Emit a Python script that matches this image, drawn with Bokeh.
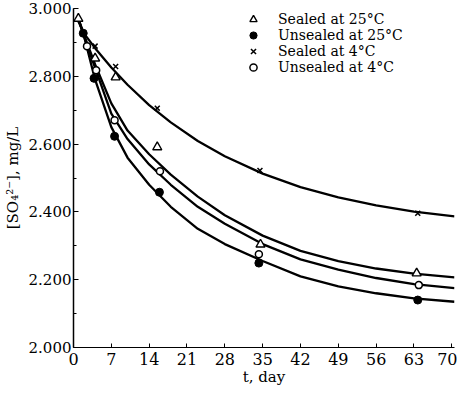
from bokeh.plotting import figure
from bokeh.models import (Range1d, SingleIntervalTicker, FixedTicker, NumeralTickFormatter,
                          Legend, LegendItem)
from bokeh.embed import file_html
from bokeh.resources import INLINE

# ---- data ----
# measured points (day, [SO4 2-] mg/L)
s25_days = [0.9, 4.0, 7.8, 15.5, 34.6, 63.5]
s25_vals = [2.970, 2.853, 2.797, 2.591, 2.304, 2.219]
u25_days = [1.8, 3.8, 7.6, 15.9, 34.3, 63.7]
u25_vals = [2.927, 2.794, 2.623, 2.458, 2.249, 2.140]
s4_days = [4.0, 7.8, 15.5, 34.5, 63.7]
s4_vals = [2.889, 2.829, 2.706, 2.522, 2.396]
u4_days = [2.5, 4.2, 7.6, 16.0, 34.3, 63.9]
u4_vals = [2.889, 2.818, 2.670, 2.520, 2.275, 2.184]

# fitted curves
curve_days = [0.8, 2, 4, 7, 10, 14, 18, 23, 28, 35, 42, 49, 56, 63, 70.5]
curve_s25 = [2.975, 2.920, 2.835, 2.720, 2.640, 2.570, 2.510, 2.445, 2.390, 2.330, 2.285, 2.255, 2.233, 2.218, 2.207]
curve_u25 = [2.975, 2.915, 2.790, 2.650, 2.560, 2.480, 2.415, 2.350, 2.305, 2.255, 2.210, 2.180, 2.160, 2.145, 2.135]
curve_s4 = [2.965, 2.925, 2.883, 2.826, 2.775, 2.715, 2.664, 2.609, 2.564, 2.513, 2.473, 2.443, 2.419, 2.401, 2.387]
curve_u4 = [2.975, 2.915, 2.825, 2.690, 2.615, 2.540, 2.480, 2.415, 2.365, 2.305, 2.260, 2.230, 2.205, 2.187, 2.175]

x_ticks = [0, 7, 14, 21, 28, 35, 42, 49, 56, 63, 70]
labels = ["Sealed at 25°C", "Unsealed at 25°C", "Sealed at 4°C", "Unsealed at 4°C"]

FONT = "DejaVu Serif"

p = figure(width=457, height=389, output_backend="svg", toolbar_location=None,
           x_range=Range1d(0, 70.5), y_range=Range1d(2.0, 3.0),
           min_border_left=65, min_border_right=3, min_border_top=8, min_border_bottom=42)
p.outline_line_color = None
p.xgrid.visible = False
p.ygrid.visible = False
p.background_fill_color = "white"
p.border_fill_color = "white"

# axes
xa = p.xaxis[0]
xa.ticker = FixedTicker(ticks=x_ticks)
xa.axis_label = "t, day"
xa.axis_label_text_font = FONT
xa.axis_label_text_font_size = "15px"
xa.axis_label_text_font_style = "normal"
xa.axis_label_standoff = 0
xa.major_label_text_font = FONT
xa.major_label_text_font_size = "16px"
xa.major_label_standoff = 5
xa.major_tick_in = 4
xa.major_tick_out = 0
xa.minor_tick_line_color = None
xa.axis_line_color = "black"
xa.axis_line_width = 1.2
xa.major_tick_line_color = "black"
xa.major_label_text_color = "black"
xa.axis_label_text_color = "black"

ya = p.yaxis[0]
ya.ticker = SingleIntervalTicker(interval=0.2, num_minor_ticks=2)
ya.formatter = NumeralTickFormatter(format="0.000")
ya.axis_label = "[SO₄²⁻], mg/L"
ya.axis_label_text_font = FONT
ya.axis_label_text_font_size = "15px"
ya.axis_label_text_font_style = "normal"
ya.axis_label_standoff = 4
ya.major_label_text_font = FONT
ya.major_label_text_font_size = "15px"
ya.major_label_standoff = 2
ya.major_tick_in = 5
ya.major_tick_out = 0
ya.minor_tick_in = 3
ya.minor_tick_out = 0
ya.axis_line_color = "black"
ya.axis_line_width = 1.5
ya.major_tick_line_color = "black"
ya.minor_tick_line_color = "black"
ya.major_label_text_color = "black"
ya.axis_label_text_color = "black"

# curves
for cv in (curve_s4, curve_s25, curve_u4, curve_u25):
    p.line(curve_days, cv, line_color="black", line_width=2.3)

# markers
r_s25 = p.scatter(s25_days, s25_vals, marker="triangle", size=9, fill_color="white",
                  line_color="black", line_width=1.4)
r_u25 = p.scatter(u25_days, u25_vals, marker="circle", size=8, fill_color="black",
                  line_color="black", line_width=1)
r_s4 = p.scatter(s4_days, s4_vals, marker="x", size=7, line_color="black", line_width=1.5)
r_u4 = p.scatter(u4_days, u4_vals, marker="circle", size=7, fill_color="white",
                 line_color="black", line_width=1.5)

# legend: one single-row legend per entry, so the row pitch can be set freely
renderers = [r_s25, r_u25, r_s4, r_u4]
row_y = [318, 302, 286, 270]   # screen offsets from the frame bottom
for lab, rend, ry in zip(labels, renderers, row_y):
    lg = Legend(items=[LegendItem(label=lab, renderers=[rend])],
                location=(171, ry), orientation="vertical")
    lg.border_line_alpha = 0
    lg.background_fill_alpha = 0
    lg.padding = 0
    lg.margin = 0
    lg.spacing = 0
    lg.label_height = 20
    lg.glyph_height = 18
    lg.glyph_width = 18
    lg.label_standoff = 16
    lg.label_text_font = FONT
    lg.label_text_font_size = "14px"
    lg.label_text_color = "black"
    lg.label_text_baseline = "middle"
    p.add_layout(lg, "center")

open("out.html", "w").write(file_html(p, INLINE))
